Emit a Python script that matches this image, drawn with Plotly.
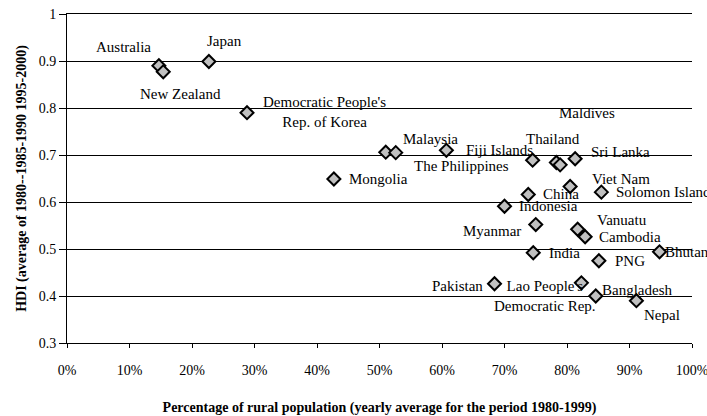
import plotly.graph_objects as go

# ---- data ----
countries = [
    "Australia", "New Zealand", "Japan", "Democratic People's<br>Rep. of Korea",
    "Mongolia", "Malaysia", "The Philippines", "Fiji Islands", "Thailand",
    "Maldives", "", "Sri Lanka", "Viet Nam", "Solomon Islands", "China",
    "Indonesia", "Myanmar", "Vanuatu", "Cambodia", "India", "PNG", "Bhutan",
    "Pakistan", "Lao People's<br>Democratic Rep.", "Bangladesh", "Nepal",
]
rural_pct = [
    14.7, 15.4, 22.7, 28.8,
    42.7, 51.0, 52.6, 60.7, 74.5,
    78.3, 78.9, 81.3, 80.5, 85.5, 73.8,
    70.0, 75.0, 81.7, 82.9, 74.6, 85.1, 94.8,
    68.4, 82.3, 84.6, 91.1,
]
hdi = [
    0.890, 0.877, 0.899, 0.790,
    0.649, 0.706, 0.705, 0.710, 0.689,
    0.684, 0.679, 0.692, 0.633, 0.621, 0.616,
    0.591, 0.552, 0.542, 0.526, 0.492, 0.475, 0.494,
    0.426, 0.428, 0.400, 0.390,
]
x_ticks = [0, 10, 20, 30, 40, 50, 60, 70, 80, 90, 100]
x_tick_labels = ["0%", "10%", "20%", "30%", "40%", "50%", "60%", "70%", "80%", "90%", "100%"]
y_ticks = [0.3, 0.4, 0.5, 0.6, 0.7, 0.8, 0.9, 1.0]
y_tick_labels = ["0.3", "0.4", "0.5", "0.6", "0.7", "0.8", "0.9", "1"]

# ---- label placement (pixel offsets from each point; layout only) ----
label_dx = [-35, 17, 16, 77, 45, 45, 66, 53, 20, 31, 0, 45, 51, 13, 33,
            44, -44, 44, 45, 31, 31, 3, -37, -36, 41, 26]
label_dy = [19, -22, 20, 1, 0, 13, -13, 0, 21, 50, 0, 7, 7, 0, 0,
            0, -6, 9, 0, 0, 0, 0, -2, -13, 6, -14]
label_anchor = ["center"] * 13 + ["left"] + ["center"] * 7 + ["left"] + ["center"] * 4

FONT = "Liberation Serif"

fig = go.Figure()
fig.add_trace(go.Scatter(
    x=rural_pct, y=hdi, mode="markers",
    marker=dict(symbol="diamond", size=10, color="#c0c0c0",
                line=dict(color="black", width=2)),
    hoverinfo="text", text=countries, showlegend=False,
))

for name, xv, yv, dx, dy, anc in zip(countries, rural_pct, hdi, label_dx, label_dy, label_anchor):
    if not name:
        continue
    fig.add_annotation(
        x=xv, y=yv, xref="x", yref="y", text=name, showarrow=False,
        xshift=dx, yshift=dy, xanchor=anc, yanchor="middle",
        font=dict(family=FONT, size=15, color="black"), align="center",
    )

fig.update_layout(
    width=707, height=416,
    margin=dict(l=67, r=15, t=14, b=73),
    paper_bgcolor="white", plot_bgcolor="white",
    font=dict(family=FONT, size=14, color="black"),
    xaxis=dict(
        range=[0, 100], tickvals=x_ticks, ticktext=x_tick_labels,
        showline=True, linecolor="black", linewidth=1, mirror=True,
        ticks="outside", ticklen=4, tickcolor="black",
        showgrid=False, zeroline=False, ticklabelstandoff=10,
        ticklabeloverflow="allow", automargin=False,
        title=dict(text="<b>Percentage of rural population (yearly average for the period 1980-1999)</b>",
                   font=dict(family=FONT, size=14), standoff=26),
    ),
    yaxis=dict(
        range=[0.3, 1.0], tickvals=y_ticks, ticktext=y_tick_labels,
        showline=True, linecolor="black", linewidth=1,
        ticks="outside", ticklen=7, tickcolor="black",
        showgrid=True, gridcolor="black", gridwidth=1, zeroline=False,
        ticklabeloverflow="allow", automargin=False,
        title=dict(text="<b>HDI (average of 1980--1985-1990 1995-2000)</b>",
                   font=dict(family=FONT, size=14), standoff=8),
    ),
)

# remove the browser's default page margin so the figure fills the window exactly
fig.write_html(
    "out.html",
    config={"displayModeBar": False},
    post_script="document.body.style.margin='0';document.body.style.overflow='hidden';",
)
